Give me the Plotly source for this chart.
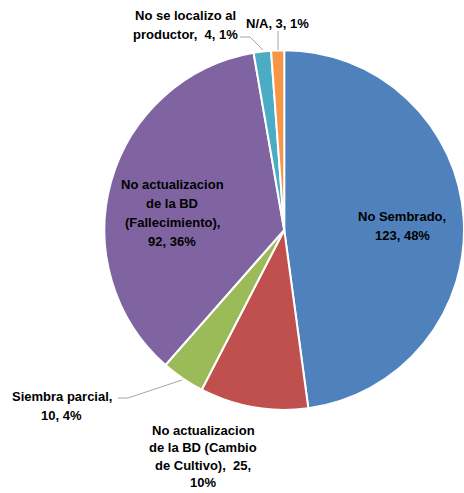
import plotly.graph_objects as go

labels = ["No Sembrado", "No actualizacion de la BD (Cambio de Cultivo)", "Siembra parcial",
          "No actualizacion de la BD (Fallecimiento)", "No se localizo al productor", "N/A"]
values = [123, 25, 10, 92, 4, 3]
colors = ["#4F81BD", "#C0504D", "#9BBB59", "#8064A2", "#4BACC6", "#F79646"]
label_lines = [["No Sembrado,", "123, 48%"],
               ["No actualizacion", "de la BD (Cambio", "de Cultivo),  25,", "10%"],
               ["Siembra parcial,", "10, 4%"],
               ["No actualizacion", "de la BD", "(Fallecimiento),", "92, 36%"],
               ["No se localizo al", "productor,  4, 1%"],
               ["N/A, 3, 1%"]]

W, H = 464, 493
def px(x, y):
    return x / W, 1 - y / H

fig = go.Figure(go.Pie(
    labels=labels, values=values, sort=False, direction="clockwise", rotation=0,
    marker=dict(colors=colors, line=dict(color="white", width=2)),
    textinfo="none", hoverinfo="label+value+percent", showlegend=False,
    domain=dict(x=[0.225, 1.0], y=[0.1635, 0.9035]),
))

# label anchor (center x, first line y) and line spacing
label_pos = [(402, 216, 19), (203, 430, 17.5), (62, 396, 19), (172, 184, 19), (185, 15, 19), (277, 23, 19)]
font = dict(family="Liberation Sans", size=13, color="black")
for lines, (x, y, dy) in zip(label_lines, label_pos):
    for i, t in enumerate(lines):
        ax_, ay_ = px(x, y + i * dy)
        fig.add_annotation(x=ax_, y=ay_, xref="paper", yref="paper", text="<b>" + t + "</b>",
                           showarrow=False, font=font, align="center",
                           xanchor="center", yanchor="middle")

leaders = [
    [(118, 398), (128, 398), (182, 380)],
    [(240, 37), (250, 37), (263, 50)],
    [(278, 31), (278, 50)],
]
for pts in leaders:
    for (x0, y0), (x1, y1) in zip(pts[:-1], pts[1:]):
        a, b = px(x0, y0)
        c, d = px(x1, y1)
        fig.add_shape(type="line", xref="paper", yref="paper", x0=a, y0=b, x1=c, y1=d,
                      line=dict(color="#A6A6A6", width=1))

fig.update_layout(width=W, height=H, margin=dict(l=0, r=0, t=0, b=0),
                  paper_bgcolor="white", plot_bgcolor="white")
fig.write_html("out.html", config={"displayModeBar": False},
               post_script="document.body.style.margin='0';document.body.style.overflow='hidden';")
